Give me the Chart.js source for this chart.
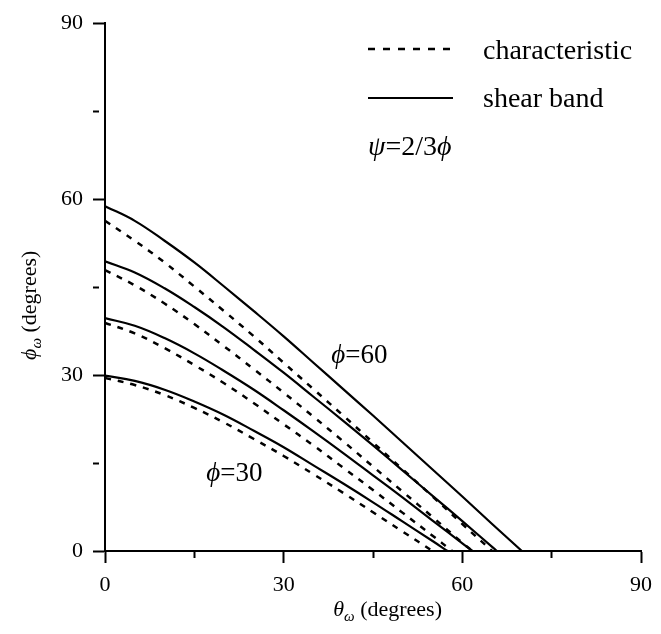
<!DOCTYPE html>
<html>
<head>
<meta charset="utf-8">
<script src="https://cdn.jsdelivr.net/npm/chart.js@4.4.1/dist/chart.umd.min.js"></script>
<style>
  html, body { margin: 0; padding: 0; background: #fff; }
</style>
</head>
<body>
<canvas id="myChart" width="661" height="634"></canvas>
<script>
// theta_w (x) and phi_w (y), one pair of arrays per curve
const thetaS30 = [0, 5, 10, 15, 20, 25, 30, 35, 40, 45, 50, 55, 57.5]
const phiS30 = [29.9, 29.0, 27.5, 25.5, 23.2, 20.5, 17.7, 14.6, 11.5, 8.3, 5.0, 1.7, 0]
const thetaD30 = [0, 5, 10, 15, 20, 25, 30, 35, 40, 45, 50, 55]
const phiD30 = [29.5, 28.3, 26.6, 24.4, 21.9, 19.1, 16.2, 13.1, 9.9, 6.6, 3.3, 0]

const thetaS40 = [0, 5, 10, 15, 20, 25, 30, 35, 40, 45, 50, 55, 60, 61.7]
const phiS40 = [39.7, 38.4, 36.3, 33.7, 30.7, 27.5, 24.0, 20.4, 16.7, 12.9, 9.1, 5.2, 1.3, 0]
const thetaD40 = [0, 5, 10, 15, 20, 25, 30, 35, 40, 45, 50, 55, 58.3]
const phiD40 = [38.9, 37.1, 34.6, 31.7, 28.6, 25.2, 21.6, 18.0, 14.2, 10.4, 6.5, 2.6, 0]

const thetaS50 = [0, 5, 10, 15, 20, 25, 30, 35, 40, 45, 50, 55, 60, 65, 65.8]
const phiS50 = [49.4, 47.5, 44.8, 41.6, 38.1, 34.3, 30.4, 26.3, 22.2, 18.0, 13.7, 9.4, 5.1, 0.7, 0]
const thetaD50 = [0, 5, 10, 15, 20, 25, 30, 35, 40, 45, 50, 55, 60, 61.7]
const phiD50 = [47.9, 45.3, 42.2, 38.7, 34.9, 31.0, 27.0, 22.9, 18.7, 14.4, 10.1, 5.8, 1.4, 0]

const thetaS60 = [0, 5, 10, 15, 20, 25, 30, 35, 40, 45, 50, 55, 60, 65, 70]
const phiS60 = [58.8, 56.3, 52.9, 49.2, 45.1, 40.9, 36.6, 32.1, 27.6, 23.1, 18.5, 13.9, 9.3, 4.6, 0]
const thetaD60 = [0, 5, 10, 15, 20, 25, 30, 35, 40, 45, 50, 55, 60, 65]
const phiD60 = [56.3, 52.9, 49.2, 45.1, 40.9, 36.6, 32.1, 27.6, 23.1, 18.5, 13.9, 9.3, 4.6, 0]

const axisTicks = [0, 30, 60, 90]
const legendLabels = ['characteristic', 'shear band']

const SERIF = '"Liberation Serif", "DejaVu Serif", serif'

const toPoints = (xs, ys) => xs.map((x, i) => ({ x: x, y: ys[i] }))

const shear = (xs, ys) => ({
    data: toPoints(xs, ys),
    borderColor: '#000',
    borderWidth: 2.2,
    fill: false
})
const charac = (xs, ys) => ({
    data: toPoints(xs, ys),
    borderColor: '#000',
    borderWidth: 2.5,
    borderDash: [6, 7],
    fill: false
})

// draws runs of text (roman / italic / subscript) one after another on a baseline
function drawRuns(ctx, runs, x, y) {
    runs.forEach(r => {
        ctx.font = (r.italic ? 'italic ' : '') + r.size + 'px ' + SERIF
        ctx.fillText(r.t, x, y + (r.dy || 0))
        x += ctx.measureText(r.t).width
    })
    return x
}
function runsWidth(ctx, runs) {
    let w = 0
    runs.forEach(r => {
        ctx.font = (r.italic ? 'italic ' : '') + r.size + 'px ' + SERIF
        w += ctx.measureText(r.t).width
    })
    return w
}

const annotate = {
    id: 'annotate',
    afterDraw(chart) {
        const ctx = chart.ctx
        const xs = chart.scales.x
        const ys = chart.scales.y
        ctx.save()
        ctx.fillStyle = '#000'
        ctx.strokeStyle = '#000'
        ctx.textBaseline = 'alphabetic'
        ctx.textAlign = 'left'

        // legend
        ctx.lineWidth = 2.5
        ctx.setLineDash([7, 8])
        ctx.beginPath(); ctx.moveTo(368, 49); ctx.lineTo(453, 49); ctx.stroke()
        ctx.lineWidth = 2.2
        ctx.setLineDash([])
        ctx.beginPath(); ctx.moveTo(368, 98); ctx.lineTo(453, 98); ctx.stroke()
        ctx.font = '28px ' + SERIF
        ctx.fillText(legendLabels[0], 483, 59)
        ctx.fillText(legendLabels[1], 483, 107)
        drawRuns(ctx, [
            { t: 'ψ', italic: true, size: 28 },
            { t: '=2/3', size: 28 },
            { t: 'ϕ', italic: true, size: 28 }
        ], 368, 155)

        // curve labels
        drawRuns(ctx, [{ t: 'ϕ', italic: true, size: 27 }, { t: '=60', size: 27 }],
            xs.getPixelForValue(38), ys.getPixelForValue(32))
        drawRuns(ctx, [{ t: 'ϕ', italic: true, size: 27 }, { t: '=30', size: 27 }],
            xs.getPixelForValue(17), ys.getPixelForValue(12))

        // axis titles
        const xTitle = [
            { t: 'θ', italic: true, size: 22 },
            { t: 'ω', italic: true, size: 15, dy: 5 },
            { t: ' (degrees)', size: 22 }
        ]
        drawRuns(ctx, xTitle, 442 - runsWidth(ctx, xTitle), 616)

        const yTitle = [
            { t: 'ϕ', italic: true, size: 22 },
            { t: 'ω', italic: true, size: 15, dy: 5 },
            { t: ' (degrees)', size: 22 }
        ]
        ctx.translate(36, 360)
        ctx.rotate(-Math.PI / 2)
        drawRuns(ctx, yTitle, 0, 0)
        ctx.restore()
    }
}

const tickFont = { family: SERIF, size: 22 }
const minorDash = c => (c.tick && c.tick.value % 30 !== 0) ? [6, 40] : []

const el = document.getElementById('myChart')
const myChart = new Chart(el, {
    type: 'line',
    data: {
        datasets: [
            shear(thetaS30, phiS30), charac(thetaD30, phiD30),
            shear(thetaS40, phiS40), charac(thetaD40, phiD40),
            shear(thetaS50, phiS50), charac(thetaD50, phiD50),
            shear(thetaS60, phiS60), charac(thetaD60, phiD60)
        ]
    },
    options: {
        responsive: false,
        animation: false,
        layout: { padding: { top: 17, right: 13, left: 0, bottom: 0 } },
        elements: {
            point: { radius: 0 },
            line: { tension: 0.4 }
        },
        plugins: {
            legend: { display: false },
            tooltip: { enabled: false }
        },
        scales: {
            x: {
                type: 'linear',
                min: 0,
                max: 90,
                ticks: {
                    stepSize: 15,
                    autoSkip: false,
                    maxRotation: 0,
                    padding: 9,
                    color: '#000',
                    font: tickFont,
                    callback: v => axisTicks.includes(v) ? v : ''
                },
                grid: {
                    drawOnChartArea: false,
                    tickLength: 12,
                    tickWidth: 2,
                    tickColor: '#000',
                    tickBorderDash: minorDash
                },
                border: { color: '#000', width: 2 },
                afterFit: s => { s.height = 83 }
            },
            y: {
                type: 'linear',
                min: 0,
                max: 90,
                ticks: {
                    stepSize: 15,
                    autoSkip: false,
                    padding: 10,
                    color: '#000',
                    font: tickFont,
                    callback: v => axisTicks.includes(v) ? v : ''
                },
                grid: {
                    drawOnChartArea: false,
                    tickLength: 12,
                    tickWidth: 2,
                    tickColor: '#000',
                    tickBorderDash: minorDash
                },
                border: { color: '#000', width: 2 },
                afterFit: s => { s.width = 105 }
            }
        }
    },
    plugins: [annotate]
})
</script>
</body>
</html>
